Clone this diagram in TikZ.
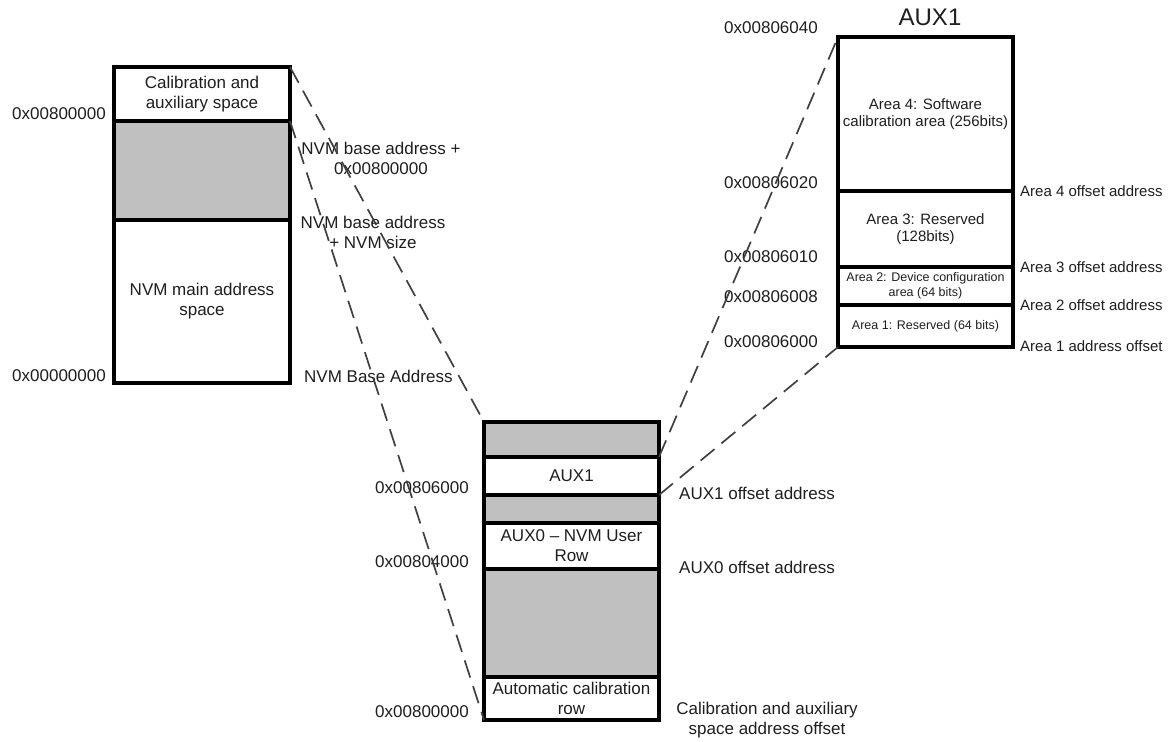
\documentclass[tikz,border=0pt]{standalone}
\usepackage{fontspec}
\setmainfont{Liberation Sans}
\definecolor{cellgray}{RGB}{192,192,192}
\definecolor{inkc}{RGB}{30,30,30}
\tikzset{
  cell/.style={draw=black, line width=3.5pt, anchor=north west, inner sep=0pt, outer sep=0pt,
    align=center, text=inkc, font=\fontsize{17}{20}\selectfont},
  grcell/.style={cell, fill=cellgray},
  lbl/.style={inner sep=0pt, text=inkc, font=\fontsize{17}{20}\selectfont, align=center},
  slbl/.style={inner sep=0pt, text=inkc, font=\fontsize{15}{17}\selectfont},
  conn/.style={draw=black!75, line width=1.7pt, dash pattern=on 18pt off 9pt},
}
\begin{document}
\begin{tikzpicture}[x=1pt,y=-1pt]
\useasboundingbox (0,0) rectangle (1168,742);
% ---- left block
\node[cell, minimum width=176pt, minimum height=54pt] (lcal) at (114,67) {Calibration and\\auxiliary space};
\node[grcell, minimum width=176pt, minimum height=99pt] (lgray) at (114,121) {};
\node[cell, minimum width=176pt, minimum height=163pt] (lmain) at (114,220) {NVM main address\\space};
\node[lbl, anchor=west] (h1) at (12,114) {0x00800000};
\node[lbl, anchor=west] (h2) at (12,376) {0x00000000};
\node[lbl] (r1) at (381,158) {NVM base address +\\0x00800000};
\node[lbl] (r2) at (373,232) {NVM base address\\+ NVM size};
\node[lbl, anchor=west] (r3) at (304,376) {NVM Base Address};
% ---- middle block
\node[grcell, minimum width=175pt, minimum height=35pt] (mg1) at (484,422) {};
\node[cell, minimum width=175pt, minimum height=38pt] (maux1) at (484,457) {AUX1};
\node[grcell, minimum width=175pt, minimum height=28pt] (mg2) at (484,495) {};
\node[cell, minimum width=175pt, minimum height=46pt] (maux0) at (484,523) {AUX0 -- NVM User\\Row};
\node[grcell, minimum width=175pt, minimum height=108pt] (mg3) at (484,569) {};
\node[cell, minimum width=175pt, minimum height=43pt] (mcal) at (484,677) {Automatic calibration\\row};
\node[lbl, anchor=east] (m1) at (469,488) {0x00806000};
\node[lbl, anchor=east] (m2) at (469,562) {0x00804000};
\node[lbl, anchor=east] (m3) at (469,712) {0x00800000};
\node[lbl, anchor=west] (n1) at (679,493) {AUX1 offset address};
\node[lbl, anchor=west] (n2) at (679,567) {AUX0 offset address};
\node[lbl] (n3) at (767,720) {Calibration and auxiliary\\space address offset};
% ---- AUX1 detail
\node[lbl, font=\fontsize{24}{28}\selectfont] (title) at (930,17) {AUX1};
\node[cell, minimum width=175pt, minimum height=154pt, font=\fontsize{15}{17}\selectfont] (a4) at (838,37) {Area 4: Software\\calibration area (256bits)};
\node[cell, minimum width=175pt, minimum height=76pt, font=\fontsize{15}{17}\selectfont] (a3) at (838,191) {Area 3: Reserved\\(128bits)};
\node[cell, minimum width=175pt, minimum height=38pt, font=\fontsize{12.5}{15}\selectfont] (a2) at (838,267) {Area 2: Device configuration\\area (64 bits)};
\node[cell, minimum width=175pt, minimum height=42pt, font=\fontsize{12.5}{15}\selectfont] (a1) at (838,305) {Area 1: Reserved (64 bits)};
\node[lbl, anchor=east] (x1) at (818,28) {0x00806040};
\node[lbl, anchor=east] (x2) at (818,183) {0x00806020};
\node[lbl, anchor=east] (x3) at (818,257) {0x00806010};
\node[lbl, anchor=east] (x4) at (818,297) {0x00806008};
\node[lbl, anchor=east] (x5) at (818,342) {0x00806000};
\node[slbl, anchor=west] (y1) at (1020,191) {Area 4 offset address};
\node[slbl, anchor=west] (y2) at (1020,267) {Area 3 offset address};
\node[slbl, anchor=west] (y3) at (1020,305) {Area 2 offset address};
\node[slbl, anchor=west] (y4) at (1020,346) {Area 1 address offset};
% ---- connectors
\draw[conn] (lcal.north east) -- (mg1.north west);
\draw[conn] (lgray.north east) -- (mcal.south west);
\draw[conn] (maux1.north east) -- (a4.north west);
\draw[conn] (maux1.south east) -- (a1.south west);
\end{tikzpicture}
\end{document}
